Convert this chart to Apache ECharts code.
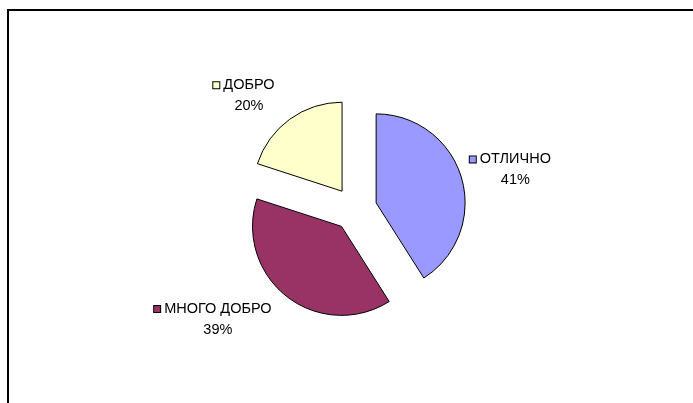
<!DOCTYPE html>
<html>
<head>
<meta charset="utf-8">
<script src="https://cdn.jsdelivr.net/npm/echarts@6/dist/echarts.min.js"></script>
<style>
html, body { margin: 0; padding: 0; background: #fff; }
#chart { width: 693px; height: 403px; }
</style>
</head>
<body>
<div id="chart"></div>
<script>
var categories = ['ОТЛИЧНО', 'МНОГО ДОБРО', 'ДОБРО'];
var values = [41, 39, 20];
var colors = ['#9999FF', '#993366', '#FFFFCC'];

var cx = 355, cy = 209, radius = 89, explode = 22, labelDist = 119;
var font = '"Liberation Sans", Arial, sans-serif';

// mid angle of every slice, clockwise from 12 o'clock
var total = values.reduce(function (a, b) { return a + b; }, 0);
var mids = [], acc = 0;
values.forEach(function (v) {
    mids.push((acc + v / 2) / total * 2 * Math.PI);
    acc += v;
});

var rich = {
    nm: { fontSize: 14.5, lineHeight: 21, fontFamily: font, color: '#000', padding: [0, 0, 0, 4] },
    sp: { width: 10, lineHeight: 21 },
    pc: { fontSize: 14.5, lineHeight: 21, fontFamily: font, color: '#000' }
};
colors.forEach(function (c, i) {
    rich['sq' + i] = { width: 6, height: 6, backgroundColor: c, borderColor: '#000', borderWidth: 1 };
});

function placeLabel(p) {
    var a = mids[p.dataIndex];
    var dx = Math.sin(a), dy = -Math.cos(a);
    var r = p.labelRect;
    return {
        x: cx + dx * labelDist + (dx > 0 ? 1 : -1) * r.width / 2,
        y: cy + dy * labelDist + dy * r.height / 2,
        align: 'center',
        verticalAlign: 'middle'
    };
}

// exploded pie: one series per slice, each shifted out along its mid angle
var series = categories.map(function (name, k) {
    var dx = Math.sin(mids[k]), dy = -Math.cos(mids[k]);
    return {
        type: 'pie',
        silent: true,
        center: [cx + dx * explode, cy + dy * explode],
        radius: radius,
        startAngle: 90,
        clockwise: true,
        avoidLabelOverlap: false,
        emphasis: { disabled: true },
        label: {
            show: true,
            position: 'outside',
            lineHeight: 21,
            formatter: function (p) {
                return '{sq' + p.dataIndex + '|}{nm|' + p.name + '}{sp|}\n{pc|' + Math.round(p.percent) + '%}';
            },
            rich: rich
        },
        labelLine: { show: false },
        labelLayout: placeLabel,
        data: categories.map(function (c, i) {
            var mine = i === k;
            return {
                name: c,
                value: values[i],
                itemStyle: mine
                    ? { color: colors[i], borderColor: '#000', borderWidth: 1 }
                    : { color: 'rgba(0,0,0,0)', borderWidth: 0 },
                label: { show: mine }
            };
        })
    };
});

var chart = echarts.init(document.getElementById('chart'));
chart.setOption({
    animation: false,
    graphic: [{
        type: 'polyline',
        shape: { points: [[8, 403], [8, 10], [693, 10]] },
        style: { stroke: '#000', lineWidth: 2, fill: null }
    }],
    series: series
});
</script>
</body>
</html>
